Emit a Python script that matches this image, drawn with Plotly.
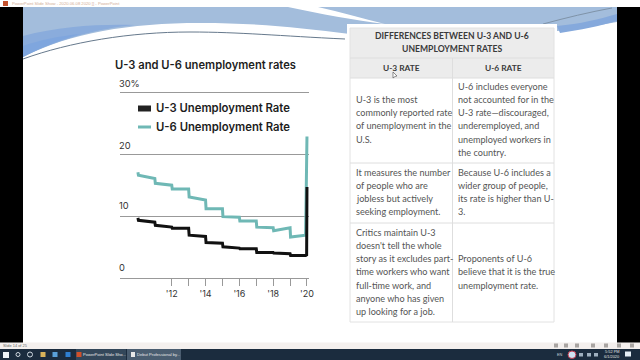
import plotly.graph_objects as go

# ---- data ----
u3_x = [2010, 2010.03, 2011, 2011.03, 2012, 2012.03, 2013, 2013.03, 2014, 2014.03, 2015, 2015.03,
        2016, 2016.03, 2017, 2017.03, 2018, 2018.03, 2019, 2019.03, 2019.92, 2019.98, 2020]
u3_y = [9.7, 9.3, 9.0, 8.5, 8.2, 8.0, 8.0, 6.9, 6.7, 5.7, 5.6, 5.0,
        4.8, 4.7, 4.7, 4.1, 4.1, 4.0, 3.9, 3.6, 3.6, 3.7, 14.7]
u6_x = [2010, 2010.03, 2011, 2011.03, 2012, 2012.03, 2013, 2013.03, 2014, 2014.03, 2015, 2015.03,
        2016, 2016.03, 2017, 2017.03, 2018, 2018.03, 2019, 2019.03, 2019.92, 2020]
u6_y = [17.1, 16.6, 16.1, 15.3, 15.0, 14.4, 14.4, 13.1, 12.6, 11.2, 11.2, 9.9,
        9.8, 9.2, 9.2, 8.2, 8.1, 7.6, 8.1, 6.6, 6.9, 22.9]
year_ticks = list(range(2012, 2021))
tick_labels = ["'12", "", "'14", "", "'16", "", "'18", "", "'20"]
y_ticks = [0, 10, 20, 30]
y_labels = ["0", "10", "20", "30%"]
series_names = ["U-3 Unemployment Rate", "U-6 Unemployment Rate"]
chart_title = "U-3 and U-6 unemployment rates"
table_title = ["DIFFERENCES BETWEEN U-3 AND U-6", "UNEMPLOYMENT RATES"]
table_heads = ["U-3 RATE", "U-6 RATE"]
col1 = [["U-3 is the most", "commonly reported rate", "of unemployment in the", "U.S."],
        ["It measures the number", "of people who are", "jobless but actively", "seeking employment."],
        ["Critics maintain U-3", "doesn't tell the whole", "story as it excludes part-", "time workers who want",
         "full-time work, and", "anyone who has given", "up looking for a job."]]
col2 = [["U-6 includes everyone", "not accounted for in the", "U-3 rate—discouraged,", "underemployed, and",
         "unemployed workers in", "the country."],
        ["Because U-6 includes a", "wider group of people,", "its rate is higher than U-", "3."],
        ["Proponents of U-6", "believe that it is the true", "unemployment rate."]]

W, H = 640, 360
TEAL, INK = "#6fb8b5", "#111111"
BODY = "Lato"

def px(x): return x / W
def py(y): return 1 - y / H

def rect(x0, y0, x1, y1, fill, line=None, lw=1):
    return dict(type="rect", xref="paper", yref="paper", x0=px(x0), x1=px(x1), y0=py(y0), y1=py(y1),
                fillcolor=fill, line=dict(color=line or fill, width=lw if line else 0), layer="below")

def curve(cmds, fill=None, line=None, lw=1, close=True):
    """cmds: list of (letter, x, y, x, y ...) in screen pixels"""
    parts = []
    for c in cmds:
        nums = c[1:]
        pts = [f"{px(nums[i]):.5f},{py(nums[i+1]):.5f}" for i in range(0, len(nums), 2)]
        parts.append(c[0] + " " + " ".join(pts))
    d = " ".join(parts) + (" Z" if close else "")
    return dict(type="path", xref="paper", yref="paper", path=d, fillcolor=fill or "rgba(0,0,0,0)",
                line=dict(color=line or "rgba(0,0,0,0)", width=lw), layer="below")

def txt(x, y, s, size=9, color="#555555", font=BODY, anchor="left", weight=None):
    f = dict(size=size, color=color, family=font)
    if weight:
        f["weight"] = weight
    nudge = -2 if anchor == "left" else (2 if anchor == "right" else 0)
    return dict(xref="paper", yref="paper", x=px(x + nudge), y=py(y), text=s, showarrow=False, font=f,
                xanchor=anchor, yanchor="middle", align=anchor)

lower_edge = [("C", 70, 33, 130, 23, 200, 23), ("C", 260, 23, 300, 28, 350, 34), ("C", 420, 42, 520, 40, 617, 22)]
shapes = [
    rect(0, 0, W, H, "#ffffff"),
    rect(0, 7, 23, 344, "#000000"),
    rect(617, 7, W, 344, "#000000"),
    rect(23, 7, 617, 343, "#ffffff"),
    rect(0, 342.5, W, 349, "#f4f0ee"),
    rect(0, 349, W, H, "#1b2c3e"),
    rect(76, 349, 126, H, "#33475a"),
    rect(127, 349, 181, H, "#4a5d70"),
    # slide swoosh
    curve([("M", 23, 57)] + lower_edge + [("L", 617, 7), ("L", 23, 7)], fill="#a3bddc"),
    curve([("M", 23, 57), ("C", 55, 40, 100, 28, 135, 25), ("C", 100, 24, 60, 26, 23, 36)], fill="#8aacdc"),
    curve([("M", 23, 57), ("C", 40, 48, 60, 40, 80, 34), ("C", 60, 36, 40, 40, 23, 46)], fill="#7fa6de"),
    curve([("M", 288, 7), ("L", 318, 7), ("C", 340, 12, 365, 19, 385, 24), ("C", 355, 20, 320, 14, 288, 7)], fill="#ffffff"),
    curve([("M", 560, 33), ("C", 580, 30, 600, 26, 617, 21), ("L", 617, 14), ("C", 600, 19, 580, 24, 557, 26)], fill="#85a9dc"),
    curve([("M", 23, 59), ("C", 70, 42, 130, 32, 190, 32), ("C", 240, 32, 280, 36, 345, 39)], line="#66798c", lw=1, close=False),
    curve([("M", 543, 24), ("C", 565, 18, 590, 12, 612, 8)], line="#7f93a8", lw=1, close=False),
    # table
    rect(347, 24, 557, 325, "#ffffff"),
    rect(350, 28, 554, 78, "#ececec"),
    rect(350, 28, 554, 322, "rgba(0,0,0,0)", line="#e2e2e2", lw=1),
]
for y in (58, 78, 163, 223):
    shapes.append(dict(type="line", xref="paper", yref="paper", x0=px(350), x1=px(554), y0=py(y), y1=py(y),
                       line=dict(color="#dedede", width=1), layer="below"))
shapes.append(dict(type="line", xref="paper", yref="paper", x0=px(452.5), x1=px(452.5), y0=py(58), y1=py(322),
                   line=dict(color="#dedede", width=1), layer="below"))
# legend swatches
shapes.append(rect(138, 105.5, 151, 111.5, "#222222"))
shapes.append(rect(138, 125.5, 151, 128.5, TEAL))
# mouse pointer
shapes.append(curve([("M", 393, 72), ("L", 393, 78), ("L", 395, 76.5), ("L", 397, 76)], fill="#ffffff", line="#444444", lw=0.6))
# window chrome, taskbar and tray icons
shapes.append(rect(3, 352, 9, 358, "#eef4f8"))
shapes.append(dict(type="circle", xref="paper", yref="paper", x0=px(16), x1=px(20), y0=py(356.5), y1=py(352.5),
                   line=dict(color="#cfd8e0", width=1), layer="below"))
shapes.append(dict(type="circle", xref="paper", yref="paper", x0=px(27.5), x1=px(32.5), y0=py(357), y1=py(352),
                   line=dict(color="#cfd8e0", width=1), layer="below"))
for x, c in ((43, "#d8b35a"), (55, "#5aa0d8"), (68, "#2f7fd0"), (79, "#d0502a")):
    shapes.append(rect(x-2.5, 352, x+2.5, 357, c))
shapes.append(rect(131, 352, 135, 357, "#e8e8e8"))
shapes.append(dict(type="circle", xref="paper", yref="paper", x0=px(568), x1=px(576), y0=py(358.5), y1=py(351),
                   fillcolor="#cfe3f2", line=dict(color="#c0384a", width=1), layer="below"))
for x in (581, 589, 596):
    shapes.append(rect(x-2, 353, x+2, 356.5, "#9fb0bf"))
shapes.append(rect(625, 351.5, 631, 356.5, "#e4edf4"))
for x in (556, 566, 577, 593, 606, 619, 632):
    shapes.append(rect(x-2, 343.5, x+2, 347.5, "#a9a5a2"))
shapes.append(rect(3, 1, 8, 6, "#c4512c"))

ann = [
    txt(115, 65, chart_title, size=11.2, color="#1d1d1d", font="Inter", weight=600),
    txt(156, 108, series_names[0], size=11.3, color="#1d1d1d", font="Inter", weight=600),
    txt(156, 127, series_names[1], size=11.3, color="#1d1d1d", font="Inter", weight=600),
    txt(12, 3.5, "PowerPoint Slide Show - 2020.06.08 2020 [] - PowerPoint", size=4.2, color="#d2ae98", font="Liberation Sans"),
    txt(3, 345.5, "Slide 14 of 25", size=3.9, color="#666666", font="Liberation Sans"),
    txt(83, 354.5, "PowerPoint Slide Sho...", size=4.1, color="#e8e8e8", font="Liberation Sans"),
    txt(137, 354.5, "Debut Professional by...", size=4.1, color="#e8e8e8", font="Liberation Sans"),
    txt(557, 354.5, "EN", size=3.9, color="#c8d0d8", font="Liberation Sans"),
    txt(620, 351.8, "5:52 PM", size=3.9, color="#e0e0e0", font="Liberation Sans", anchor="right"),
    txt(620, 356.8, "6/1/2020", size=3.9, color="#e0e0e0", font="Liberation Sans", anchor="right"),
]
for v, lab, y in zip(y_ticks, y_labels, (267, 205, 145, 83)):
    ann.append(txt(118.5, y, lab, size=9.3, color="#333333", font="Inter"))
for s, y in zip(table_title, (36.5, 49)):
    ann.append(txt(452, y, s, size=8.6, color="#3a3a3a", font="Lato", anchor="center", weight=700))
for s, x in zip(table_heads, (401, 503)):
    ann.append(txt(x, 68, s, size=8.4, color="#3a3a3a", font="Lato", anchor="center", weight=700))

for lines, x_left, tops in ((col1, 355.5, (99.5, 172, 232)), (col2, 457.5, (86, 172, 258.5))):
    for block, top in zip(lines, tops):
        for i, s in enumerate(block):
            ann.append(txt(x_left, top + i * 13.25, s, size=9.1))

fig = go.Figure()
fig.add_trace(go.Scatter(x=u6_x, y=u6_y, mode="lines", name=series_names[1],
                         line=dict(color=TEAL, width=3), showlegend=False, hoverinfo="skip", cliponaxis=False))
fig.add_trace(go.Scatter(x=u3_x, y=u3_y, mode="lines", name=series_names[0],
                         line=dict(color=INK, width=3), showlegend=False, hoverinfo="skip", cliponaxis=False))
fig.update_layout(
    width=W, height=H, margin=dict(l=0, r=0, t=0, b=0, pad=0), autosize=False,
    paper_bgcolor="#ffffff", plot_bgcolor="rgba(0,0,0,0)", shapes=shapes, annotations=ann,
    xaxis=dict(domain=[px(120), px(309)], range=[2008.94, 2020.12], tickmode="array", tickvals=year_ticks,
               ticktext=tick_labels, ticks="outside", ticklen=7, tickcolor="#999999", tickwidth=1,
               showgrid=False, zeroline=False, showline=True, linecolor="#999999", linewidth=1, mirror=True,
               automargin=False, tickfont=dict(size=9, color="#333333", family="Inter"), anchor="y"),
    yaxis=dict(domain=[py(277.7), py(92.7)], range=[0, 30], tickmode="array", tickvals=y_ticks,
               showticklabels=False, showgrid=True, gridcolor="#999999", gridwidth=1, zeroline=False,
               showline=False, automargin=False),
)
fig.write_html("out.html", config=dict(displayModeBar=False),
               post_script="document.documentElement.style.margin='0';document.body.style.margin='0';document.body.style.overflow='hidden';")
